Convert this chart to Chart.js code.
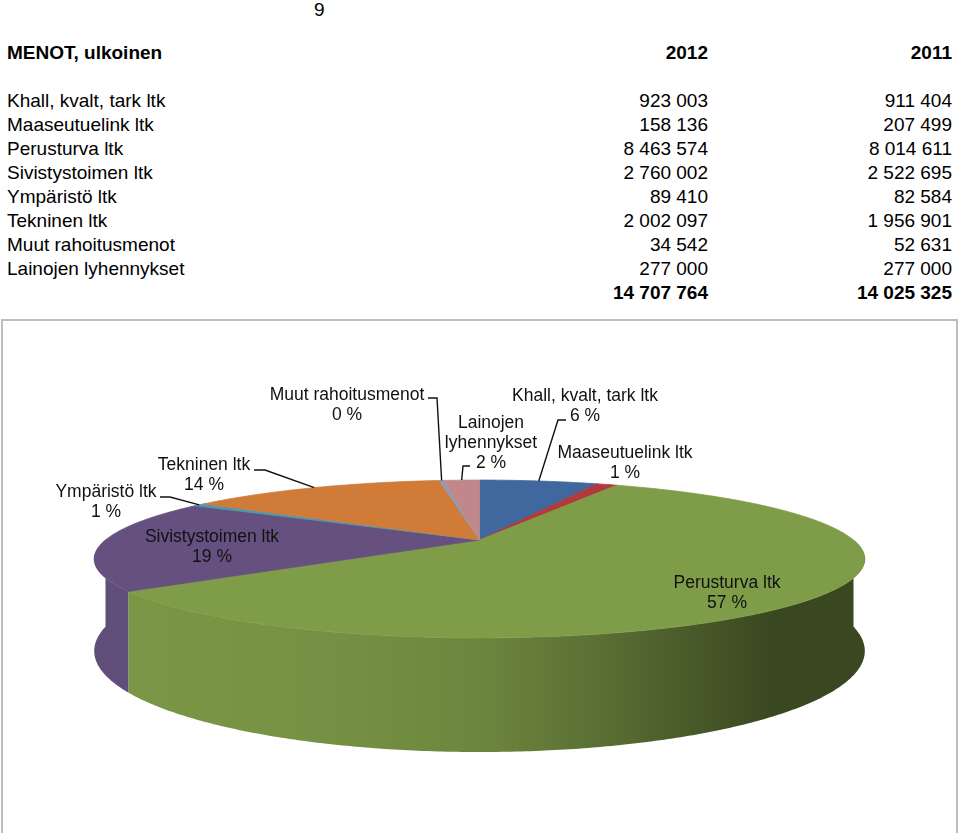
<!DOCTYPE html>
<html>
<head>
<meta charset="utf-8">
<script src="https://cdn.jsdelivr.net/npm/chart.js@4.4.1/dist/chart.umd.min.js"></script>
<style>
  body { margin: 0; width: 959px; height: 833px; overflow: hidden; background: #fff;
         font-family: "Liberation Sans", Arial, sans-serif; color: #000; position: relative; }
  .t { position: absolute; font-size: 19px; line-height: 24px; white-space: nowrap; }
  .b { font-weight: bold; }
  #box { position: absolute; left: 1px; top: 319px; width: 953px; height: 600px;
         border: 2px solid #bdbdbd; }
  #pie { position: absolute; left: 0; top: 320px; }
</style>
</head>
<body>
<div class="t" style="left:314px; top:-2px;">9</div>
<div id="table"></div>
<div id="box"></div>
<canvas id="pie" width="959" height="513"></canvas>
<script>
var title = 'MENOT, ulkoinen';
var years = ['2012', '2011'];
var categories = ['Khall, kvalt, tark ltk', 'Maaseutuelink ltk', 'Perusturva ltk', 'Sivistystoimen ltk',
                  'Ympäristö ltk', 'Tekninen ltk', 'Muut rahoitusmenot', 'Lainojen lyhennykset'];
var values2012 = [923003, 158136, 8463574, 2760002, 89410, 2002097, 34542, 277000];
var values2011 = [911404, 207499, 8014611, 2522695, 82584, 1956901, 52631, 277000];
// percentages as printed on the chart
var percentLabels = ['6 %', '1 %', '57 %', '19 %', '1 %', '14 %', '0 %', '2 %'];

var sliceColors = ['#41689E', '#B03A3C', '#7F9C48', '#65507F', '#4A98B2', '#D07B38', '#8A9BBE', '#C1888B'];

function fmt(n) {
  return String(n).replace(/\B(?=(\d{3})+(?!\d))/g, ' ');
}
function sum(a) { return a.reduce(function(s, v) { return s + v; }, 0); }

// ---- table above the chart ----
var table = document.getElementById('table');
function cell(text, css, bold) {
  var d = document.createElement('div');
  d.className = 't' + (bold ? ' b' : '');
  d.style.cssText = css;
  d.textContent = text;
  table.appendChild(d);
}
cell(title, 'left:7px; top:41px;', true);
cell(years[0], 'right:251px; top:41px;', true);
cell(years[1], 'right:7px; top:41px;', true);
for (var i = 0; i < categories.length; i++) {
  var rowTop = 89 + 24 * i;
  cell(categories[i], 'left:7px; top:' + rowTop + 'px;');
  cell(fmt(values2012[i]), 'right:251px; top:' + rowTop + 'px;');
  cell(fmt(values2011[i]), 'right:7px; top:' + rowTop + 'px;');
}
cell(fmt(sum(values2012)), 'right:251px; top:281px;', true);
cell(fmt(sum(values2011)), 'right:7px; top:281px;', true);

// ---- 3d pie helpers ----
function shade(hex, f) {
  var r = parseInt(hex.substr(1, 2), 16), g = parseInt(hex.substr(3, 2), 16), b = parseInt(hex.substr(5, 2), 16);
  return 'rgb(' + Math.round(r * f) + ',' + Math.round(g * f) + ',' + Math.round(b * f) + ')';
}

function rim(arc, t, o) {
  var R = arc.outerRadius, u = Math.cos(t), v = Math.sin(t), den = 1 - o.persp * v;
  return { x: arc.x + o.rx * R * u / den, y: arc.y + o.ry * R * v / den, d: o.depth * R / den };
}

var pie3d = {
  id: 'pie3d',
  beforeDatasetsDraw: function(chart, args, o) {
    var ctx = chart.ctx;
    var arcs = chart.getDatasetMeta(0).data;
    var step = 0.01;
    ctx.save();

    // outer walls on the front half
    arcs.forEach(function(arc) {
      var s = Math.max(arc.startAngle, 0), e = Math.min(arc.endAngle, Math.PI);
      if (e <= s) return;
      var col = arc.options.backgroundColor;
      var w = o.rx * arc.outerRadius * 1.03;
      var g = ctx.createLinearGradient(arc.x - w, 0, arc.x + w, 0);
      g.addColorStop(0, shade(col, 0.97));
      g.addColorStop(0.3, shade(col, 0.93));
      g.addColorStop(0.5, shade(col, 0.86));
      g.addColorStop(0.65, shade(col, 0.72));
      g.addColorStop(0.78, shade(col, 0.57));
      g.addColorStop(0.88, shade(col, 0.46));
      g.addColorStop(1, shade(col, 0.46));
      ctx.beginPath();
      var t, p;
      for (t = s; t < e; t += step) { p = rim(arc, t, o); ctx.lineTo(p.x, p.y); }
      p = rim(arc, e, o); ctx.lineTo(p.x, p.y); ctx.lineTo(p.x, p.y + p.d);
      for (t = e; t > s; t -= step) { p = rim(arc, t, o); ctx.lineTo(p.x, p.y + p.d); }
      p = rim(arc, s, o); ctx.lineTo(p.x, p.y + p.d);
      ctx.closePath();
      ctx.fillStyle = g;
      ctx.fill();
    });

    // top faces
    arcs.forEach(function(arc) {
      var col = arc.options.backgroundColor;
      ctx.beginPath();
      ctx.moveTo(arc.x, arc.y);
      for (var t = arc.startAngle; t < arc.endAngle; t += step) {
        var p = rim(arc, t, o); ctx.lineTo(p.x, p.y);
      }
      var q = rim(arc, arc.endAngle, o); ctx.lineTo(q.x, q.y);
      ctx.closePath();
      ctx.fillStyle = col;
      ctx.strokeStyle = col;
      ctx.lineWidth = 0.8;
      ctx.fill();
      ctx.stroke();
    });
    ctx.restore();
    return false;
  },
  afterDraw: function(chart, args, o) {
    var ctx = chart.ctx;
    var arcs = chart.getDatasetMeta(0).data;
    ctx.save();
    ctx.font = '17.5px "Liberation Sans", Arial, sans-serif';
    ctx.fillStyle = '#111';
    ctx.strokeStyle = '#111';
    ctx.lineWidth = 1.4;
    ctx.textAlign = 'center';
    ctx.textBaseline = 'middle';
    arcs.forEach(function(arc, i) {
      var L = o.labels[i];
      var name = categories[i].length > 19 && categories[i].indexOf(',') < 0 ? categories[i].split(' ') : [categories[i]];
      var lines = name.concat([percentLabels[i]]);
      var y0 = L.y - (lines.length - 1) * o.lineH / 2;
      lines.forEach(function(s, j) { ctx.fillText(s, L.x, y0 + j * o.lineH); });
      if (L.lead) {
        var p = rim(arc, (arc.startAngle + arc.endAngle) / 2, o);
        ctx.beginPath();
        ctx.moveTo(L.lead[0][0], L.lead[0][1]);
        ctx.lineTo(L.lead[1][0], L.lead[1][1]);
        ctx.lineTo(p.x, p.y);
        ctx.stroke();
      }
    });
    ctx.restore();
  }
};

new Chart(document.getElementById('pie'), {
  type: 'pie',
  data: {
    labels: categories,
    datasets: [{
      data: values2012,
      backgroundColor: sliceColors,
      borderWidth: 0
    }]
  },
  options: {
    responsive: false,
    animation: false,
    events: [],
    layout: { padding: { top: 0, bottom: 73, left: 0, right: 0 } },
    plugins: {
      legend: { display: false },
      tooltip: { enabled: false },
      pie3d: {
        rx: 1.7, ry: 0.338, depth: 0.394, persp: 0.2405, lineH: 20,
        labels: [
          { x: 585, y: 86, lead: [[566, 100], [558, 100]] },
          { x: 625, y: 143 },
          { x: 727, y: 273 },
          { x: 212, y: 227 },
          { x: 106, y: 182, lead: [[160, 177], [170, 177]] },
          { x: 204, y: 155, lead: [[254, 150], [265, 150]] },
          { x: 347, y: 85, lead: [[428, 78], [437, 78]] },
          { x: 491, y: 123, lead: [[470, 146], [463, 146]] }
        ]
      }
    }
  },
  plugins: [pie3d]
});
</script>
</body>
</html>
